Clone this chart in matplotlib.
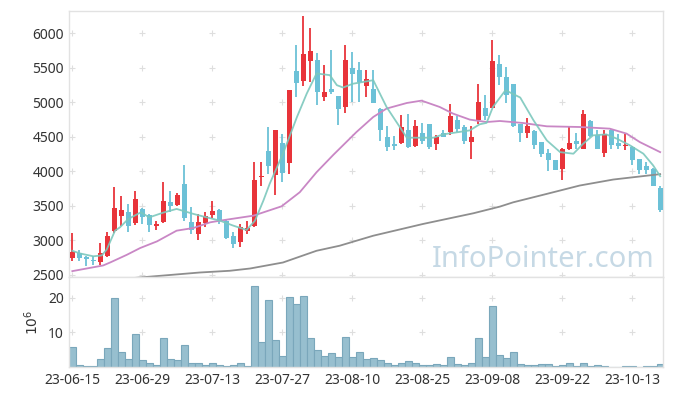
import numpy as np
import matplotlib.pyplot as plt
from matplotlib import font_manager

plt.rcParams['font.family'] = ['Noto Sans', 'DejaVu Sans']

# x-axis labels (trading-day index -> date label)
tick_idx = [0, 10, 20, 30, 40, 50, 60, 70, 80]
tick_labels = ["23-06-15", "23-06-29", "23-07-13", "23-07-27", "23-08-10",
               "23-08-25", "23-09-08", "23-09-22", "23-10-13"]

# daily candles, 85 trading days
opens = [2740, 2817, 2765, 2715, 2680, 2780, 3130, 3350, 3415, 3245,
         3460, 3375, 3205, 3260, 3550, 3510, 3810, 3270, 3100, 3245,
         3375, 3445, 3285, 3070, 2970, 3130, 3215, 3920, 4295, 3945,
         4410, 4120, 5450, 5310, 5600, 5620, 5080, 5190, 5090, 4935,
         5505, 5475, 5240, 5190, 4900, 4505, 4400, 4415, 4595, 4365,
         4560, 4680, 4390, 4560, 4570, 4740, 4640, 4425, 4740, 4925,
         4920, 5555, 5370, 5265, 4680, 4560, 4580, 4425, 4265, 4165,
         4030, 4320, 4440, 4325, 4725, 4520, 4265, 4595, 4410, 4370,
         4360, 4175, 4085, 4040, 3760]
highs = [3105, 2860, 2775, 2780, 2960, 3115, 3780, 3640, 3530, 3720,
         3465, 3385, 3280, 3840, 3710, 3685, 4095, 3480, 3385, 3405,
         3575, 3450, 3290, 3115, 3240, 3285, 4135, 4135, 4650, 4600,
         4545, 5180, 5830, 6250, 6075, 5710, 5540, 5765, 5095, 5830,
         5735, 5580, 5465, 5475, 4925, 4655, 4510, 4810, 4835, 4740,
         4700, 4690, 4520, 4605, 4970, 4800, 4665, 4655, 5260, 5105,
         5905, 5685, 5515, 5270, 4685, 4775, 4600, 4430, 4330, 4170,
         4335, 4655, 4560, 4885, 4740, 4605, 4595, 4620, 4535, 4535,
         4365, 4180, 4135, 4045, 3795]
lows = [2705, 2705, 2630, 2650, 2640, 2765, 3110, 3210, 3125, 3230,
        3240, 3115, 3150, 3250, 3405, 3500, 3285, 3095, 3005, 3190,
        3325, 3240, 3025, 2890, 2900, 3095, 3190, 3795, 3965, 3660,
        3845, 3965, 5080, 5235, 5295, 4960, 5020, 5120, 4665, 4840,
        5005, 5005, 5080, 4985, 4440, 4290, 4305, 4400, 4335, 4350,
        4400, 4330, 4315, 4495, 4530, 4570, 4390, 4185, 4690, 4740,
        4915, 5250, 4985, 4650, 4425, 4490, 4330, 4215, 4000, 4020,
        3880, 4315, 4320, 4320, 4495, 4320, 4215, 4330, 4330, 4305,
        4095, 3965, 3965, 3790, 3415]
closes = [2835, 2740, 2735, 2695, 2820, 3065, 3470, 3445, 3205, 3600,
          3335, 3230, 3240, 3575, 3505, 3665, 3320, 3150, 3265, 3360,
          3430, 3285, 3030, 2955, 3200, 3180, 3880, 3930, 4080, 4595,
          3975, 5175, 5280, 5700, 5745, 5150, 5145, 5150, 4905, 5620,
          5410, 5290, 5335, 4990, 4595, 4350, 4365, 4640, 4350, 4655,
          4440, 4360, 4505, 4505, 4800, 4620, 4440, 4495, 5005, 4800,
          5595, 5370, 5105, 4655, 4560, 4655, 4385, 4245, 4160, 4025,
          4330, 4410, 4395, 4825, 4510, 4325, 4545, 4385, 4365, 4380,
          4160, 4015, 4025, 3795, 3445]

# volume in millions of shares
volume = [5.7, 0.5, 0.2, 0.2, 2.2, 5.4, 19.8, 4.2, 2.2, 9.4,
          2.0, 1.1, 0.5, 8.3, 2.2, 1.9, 6.3, 1.1, 1.1, 0.5,
          1.1, 0.5, 0.2, 0.5, 1.1, 0.2, 23.3, 7.1, 19.2, 7.7,
          3.1, 20.1, 18.1, 20.4, 8.3, 4.8, 3.1, 3.9, 2.8, 8.6,
          2.8, 4.2, 2.2, 2.5, 1.9, 1.1, 0.5, 1.1, 1.6, 1.3,
          0.5, 0.5, 0.8, 0.5, 2.8, 0.8, 0.5, 1.1, 8.3, 2.8,
          17.5, 3.4, 2.5, 4.2, 0.8, 0.5, 0.5, 0.8, 0.8, 0.2,
          0.5, 1.1, 0.2, 1.1, 0.2, 0.5, 0.2, 0.1, 0.1, 0.2,
          0.2, 0.1, 0.2, 0.2, 0.8]

# moving average lines (day index, price)
ma_short_x = [0, 1.1, 3, 4.2, 4.9, 6.1, 6.8, 8, 9.8, 11, 13, 14.9, 17.3, 19.2,
              21.1, 23, 24.9, 26.1, 27.3, 28.2, 30.1, 32.1, 33.5, 34.9, 36.8,
              37.8, 38.7, 40.1, 43, 44.9, 47.8, 51.6, 53, 56.8, 58.2, 59.2,
              60.1, 61.9, 64, 65.9, 67.8, 69.7, 71.6, 73, 74.4, 76.3, 77.8,
              79.7, 81.6, 83, 84]
ma_short_y = [2850, 2811, 2770, 2782, 2865, 3141, 3189, 3311, 3407, 3334, 3403,
              3456, 3384, 3334, 3286, 3214, 3151, 3286, 3577, 3820, 4256, 4788,
              5128, 5419, 5394, 5249, 5215, 5270, 5321, 4933, 4488, 4488, 4536,
              4594, 4682, 4703, 4933, 5176, 5070, 4740, 4449, 4279, 4256, 4401,
              4522, 4536, 4474, 4376, 4256, 4086, 3930]
ma_mid_x = [0, 4.4, 5.4, 7.8, 9.7, 12.1, 14.9, 17.3, 19.7, 21.1, 25.9, 29.9,
            32.5, 34.9, 37.3, 40.6, 43, 44.9, 47.8, 49.9, 52.5, 54.4,
            56.8, 59.2, 61.1, 64.4, 67.8, 72.5, 76.8, 79.2, 81.1, 84]
ma_mid_y = [2555, 2637, 2680, 2792, 2890, 2986, 3141, 3180, 3262, 3286, 3359,
            3494, 3698, 3988, 4240, 4570, 4788, 4910, 4991, 5025, 4933,
            4837, 4750, 4715, 4730, 4701, 4653, 4643, 4619, 4547, 4424, 4279]
ma_long_x = [0, 8.5, 18.2, 22.5, 25.4, 30.1, 34.9, 38.2, 43, 50.1, 57.3, 61.1,
             63, 67.8, 72.5, 77.3, 84]
ma_long_y = [2390, 2453, 2535, 2560, 2593, 2680, 2850, 2923, 3068, 3238, 3393,
             3490, 3552, 3674, 3795, 3882, 3960]

x = np.arange(len(opens))
o = np.array(opens)
c = np.array(closes)
up = c >= o
cols = np.where(up, '#e8343a', '#6cc1d7')

fig = plt.figure(figsize=(6.73, 3.96), dpi=100)
ax = fig.add_axes([0.103, 0.300, 0.882, 0.673])
axv = fig.add_axes([0.103, 0.0732, 0.882, 0.2268], sharex=ax)

frame = '#e2e2e2'
grid_c = '#dedede'
txt = '#333333'

# price panel
price_ticks = np.arange(2500, 6001, 500)
gx, gy = np.meshgrid(tick_idx, price_ticks)
ax.plot(gx.ravel(), gy.ravel(), ls='none', marker='+', ms=5, mew=0.8,
        color=grid_c, zorder=0, clip_on=False)

names = {f.name for f in font_manager.fontManager.ttflist}
if 'Liberation Sans Narrow' in names:
    wm_font, wm_size = 'Liberation Sans Narrow', 27
else:
    wm_font, wm_size = 'Noto Sans', 21
ax.text(0.986, 0.04, "InfoPointer.com", transform=ax.transAxes,
        ha='right', va='baseline', fontsize=wm_size, family=wm_font,
        color='#c6d9e5', zorder=1)

ax.vlines(x, lows, highs, colors=cols, lw=1.3, zorder=2)
ax.bar(x, np.abs(c - o), bottom=np.minimum(o, c), width=0.68,
       color=cols, lw=0, zorder=3)

ax.plot(ma_long_x, ma_long_y, color='#8e8e8e', lw=1.3, zorder=4)
ax.plot(ma_mid_x, ma_mid_y, color='#c987c5', lw=1.3, zorder=4)
ax.plot(ma_short_x, ma_short_y, color='#7cc8bd', lw=1.3, alpha=0.9, zorder=4)

ax.set_xlim(-0.43, 84.39)
ax.set_ylim(2467, 6328)
ax.set_yticks(price_ticks)
ax.tick_params(length=0, labelsize=10, labelcolor=txt, labelbottom=False, pad=4)

# volume panel
vol_ticks = [10, 20]
vx, vy = np.meshgrid(tick_idx, vol_ticks)
axv.plot(vx.ravel(), vy.ravel(), ls='none', marker='+', ms=5, mew=0.8,
         color=grid_c, zorder=0)
axv.bar(x, volume, width=0.95, color='#97bfcf', edgecolor='#7aa7bb',
        lw=0.8, zorder=2)
axv.set_ylim(0, 25.9)
axv.set_yticks(vol_ticks)
axv.set_xticks(tick_idx)
axv.set_xticklabels(tick_labels)
axv.tick_params(length=0, labelsize=10, labelcolor=txt, pad=4)
axv.set_ylabel('$10^6$', fontsize=10, color=txt)
axv.yaxis.set_label_coords(-0.046, 0.5)

for a in (ax, axv):
    for s in a.spines.values():
        s.set_color(frame)
        s.set_linewidth(1)

fig.savefig('out.png', dpi=100)
